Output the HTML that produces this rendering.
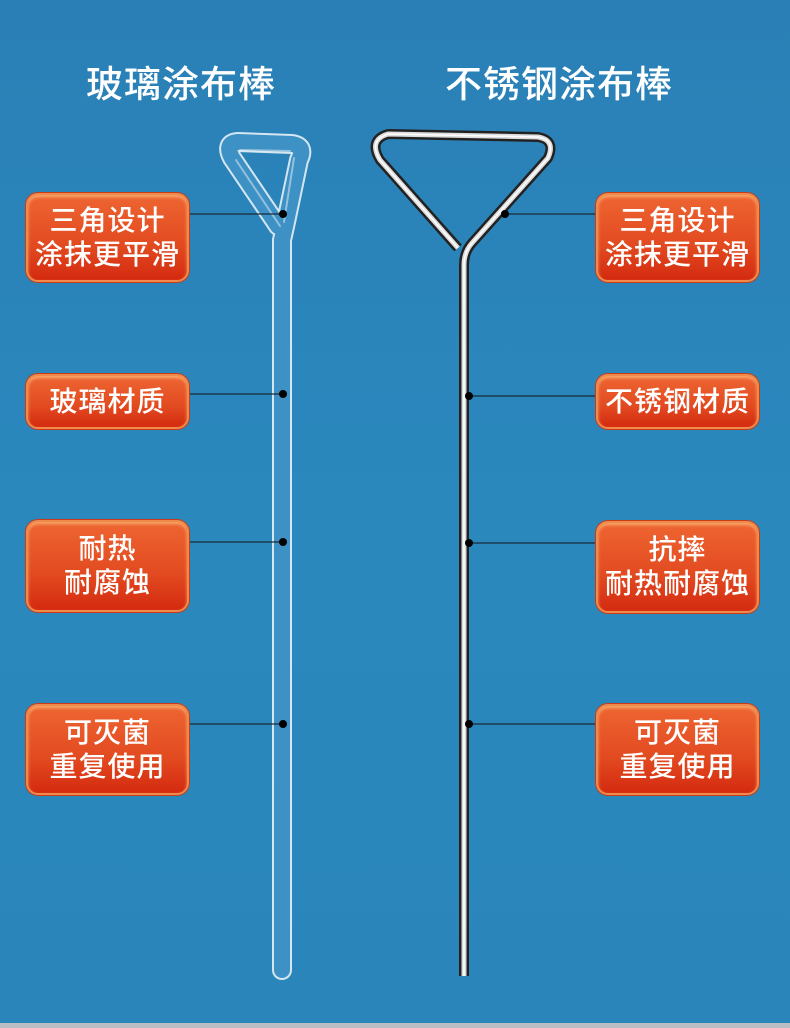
<!DOCTYPE html>
<html><head><meta charset="utf-8"><style>
body{margin:0;width:790px;height:1028px;overflow:hidden;position:relative;background:linear-gradient(#2a80b6,#2a88bd 50%,#2a86ba);font-family:"Liberation Sans","Noto Sans CJK SC",sans-serif}
.t{position:absolute;top:54px;color:#fff;font-size:37px;font-weight:500;letter-spacing:1px;white-space:nowrap}
.b{position:absolute;box-sizing:border-box;border:2px solid #f08a4a;border-radius:12px;background:linear-gradient(#ee6532,#e24a20 60%,#d42a10);box-shadow:0 0 0 1px #c83a18,inset 0 2px 3px rgba(255,220,150,.6);color:#fff;font-size:28px;line-height:34px;text-align:center;display:flex;align-items:center;justify-content:center;letter-spacing:1px;font-weight:500}
.bot{position:absolute;left:0;top:1023px;width:790px;height:5px;background:#b9bdc4}
</style></head><body>
<div class="t" style="left:86px">玻璃涂布棒</div>
<div class="t" style="left:445px">不锈钢涂布棒</div>
<svg width="790" height="1028" style="position:absolute;left:0;top:0">
<g fill="none" stroke-linejoin="round" stroke-linecap="round">
<!-- glass -->
<path d="M278 226 L232 158 Q224 143 238 142 L292 144 Q306 146 299 160 L286 222 L282 240 L282 970" stroke="rgba(255,255,255,.8)" stroke-width="20"/>
<path d="M278 226 L232 158 Q224 143 238 142 L292 144 Q306 146 299 160 L286 222 L282 240 L282 970" stroke="#3d91c4" stroke-width="16"/>
<path d="M240 150 L290 151 M236 160 L280 226 M294 158 L284 222" stroke="rgba(255,255,255,.45)" stroke-width="2"/>
<!-- steel -->
<path d="M458 248 L380 160 Q368 140 388 134 L538 137 Q556 140 548 158 L472 243 Q464 252 464 265 L464 976" stroke="#222" stroke-width="10" stroke-linecap="butt"/>
<path d="M458 248 L380 160 Q368 140 388 134 L538 137 Q556 140 548 158 L472 243 Q464 252 464 265 L464 976" stroke="#ddd" stroke-width="5" stroke-linecap="butt"/>
<path d="M458 248 L380 160 Q368 140 388 134 L538 137 Q556 140 548 158 L472 243 Q464 252 464 265 L464 976" stroke="#fff" stroke-width="1.5" stroke-linecap="butt"/>
</g>
<g stroke="#1a2a3a" stroke-width="1.3">
<line x1="190" y1="214" x2="283" y2="214"/><line x1="190" y1="394" x2="283" y2="394"/><line x1="190" y1="542" x2="283" y2="542"/><line x1="190" y1="724" x2="283" y2="724"/>
<line x1="505" y1="214" x2="596" y2="214"/><line x1="469" y1="396" x2="596" y2="396"/><line x1="469" y1="543" x2="596" y2="543"/><line x1="469" y1="724" x2="596" y2="724"/>
</g>
<g fill="#000">
<circle cx="283" cy="214" r="4"/><circle cx="283" cy="394" r="4"/><circle cx="283" cy="542" r="4"/><circle cx="283" cy="724" r="4"/>
<circle cx="505" cy="214" r="4"/><circle cx="469" cy="396" r="4"/><circle cx="469" cy="543" r="4"/><circle cx="469" cy="724" r="4"/>
</g>
</svg>
<div class="b" style="left:26px;top:193px;width:163px;height:89px">三角设计<br>涂抹更平滑</div>
<div class="b" style="left:26px;top:374px;width:163px;height:55px">玻璃材质</div>
<div class="b" style="left:26px;top:520px;width:163px;height:92px">耐热<br>耐腐蚀</div>
<div class="b" style="left:26px;top:704px;width:163px;height:91px">可灭菌<br>重复使用</div>
<div class="b" style="left:596px;top:193px;width:163px;height:89px">三角设计<br>涂抹更平滑</div>
<div class="b" style="left:596px;top:374px;width:163px;height:55px">不锈钢材质</div>
<div class="b" style="left:596px;top:521px;width:163px;height:92px">抗摔<br>耐热耐腐蚀</div>
<div class="b" style="left:596px;top:704px;width:163px;height:91px">可灭菌<br>重复使用</div>
<div class="bot"></div>
</body></html>
